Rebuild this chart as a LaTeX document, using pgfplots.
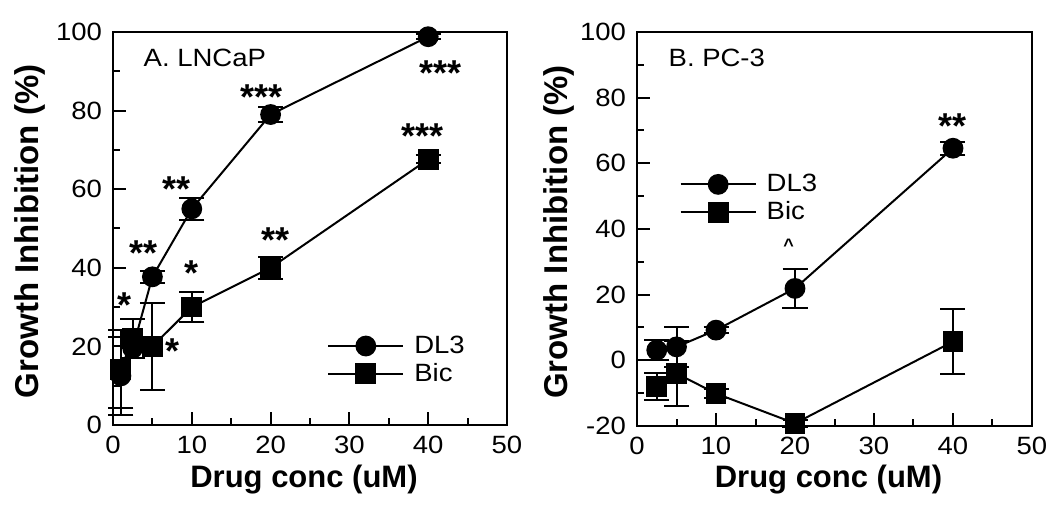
\documentclass[border=0pt]{standalone}
\usepackage{fontspec}
\setmainfont{Liberation Sans}
\newfontfamily\numfont[FakeStretch=1.1]{Liberation Sans}
\usepackage{pgfplots}
\pgfplotsset{compat=1.18}

\pgfplotstableread{
x y e
1 12.5 10
2.5 19.5 2.5
5 37.7 1.5
10 55 2.8
20 79 2
40 98.8 0.6
}\dlA
\pgfplotstableread{
x y e
1 14.2 10
2.5 22 5
5 20 11
10 30 3.8
20 40 2.8
40 67.6 1
}\bicA
\pgfplotstableread{
x y e
2.5 3.1 3
5 4.1 6
10 9.2 1
20 21.9 6
40 64.6 2
}\dlB
\pgfplotstableread{
x y e
2.5 -8 4
5 -4 10
10 -10.1 1.5
20 -19.2 1
40 5.7 10
}\bicB

\pgfplotsset{
  panel/.style={
    scale only axis, width=197pt, height=196.5pt,
    xmin=0, xmax=50, xtick={0,10,...,50}, minor xtick={5,15,...,45},
    axis line style={line width=1pt},
    tick align=inside, tick pos=left,
    major tick length=6.5pt, minor tick length=3.5pt,
    every tick/.style={line width=1pt, black},
    /pgf/number format/assume math mode=true,
    ticklabel style={font=\numfont\fontsize{12.5}{14}\selectfont},
    yticklabel style={xshift=-2pt},
    xticklabel style={yshift=-2pt},
    xlabel={Drug conc (uM)},
    ylabel={Growth Inhibition (\%)},
    xlabel style={at={(axis description cs:0.5,0)}, anchor=base, yshift=-31pt, xshift=-3pt, font=\bfseries\fontsize{15.5}{17}\selectfont},
    ylabel style={at={(axis description cs:0,0.5)}, anchor=center, xshift=-1.5pt, font=\bfseries\fontsize{16.5}{18}\selectfont},
    clip=false,
    legend style={draw=none, fill=none, inner sep=0pt, outer sep=0pt, row sep=3.5pt, column sep=5pt,
      font=\numfont\fontsize{12.5}{14}\selectfont, nodes={inner sep=0pt}, cells={anchor=west}},
    legend image code/.code={\draw[mark repeat=2,mark phase=2] plot coordinates {(0pt,0pt) (18.75pt,0pt) (37.5pt,0pt)};},
  },
  ser/.style={black, line width=1pt, mark size=4.7pt, mark options={solid, fill=black},
    error bars/y dir=both, error bars/y explicit,
    error bars/error bar style={line width=1pt, black},
    error bars/error mark options={rotate=90, mark size=6.25pt, line width=1pt, black}},
}
\tikzset{
  star/.style={font=\bfseries\fontsize{18}{18}\selectfont, anchor=base, yshift=-9.9pt, inner sep=0pt},
  lab/.style={font=\numfont\fontsize{12.5}{14}\selectfont, anchor=base west, inner sep=0pt},
}

\begin{document}
\begin{tikzpicture}
\path[use as bounding box] (0,0) rectangle (525pt,254.5pt);
\begin{axis}[panel, at={(56.5pt,42pt)}, anchor=south west,
  ymin=0, ymax=100, ytick={0,20,...,100}, minor ytick={10,30,...,90},
  ylabel style={yshift=41.5pt},
  legend style={at={(axis cs:27.2,22.7)}, anchor=north west}]
\addplot[ser, mark=*] table[x=x, y=y, y error=e] {\dlA};
\addlegendentry{DL3}
\addplot[ser, mark=square*] table[x=x, y=y, y error=e] {\bicA};
\addlegendentry{Bic}
\node[lab] at (axis cs:3.85,91.2) {A. LNCaP};
\node[star] at (axis cs:18.9,85.2) {***};
\node[star] at (axis cs:41.5,91.3) {***};
\node[star] at (axis cs:39.3,75.5) {***};
\node[star] at (axis cs:8.1,61.9) {**};
\node[star] at (axis cs:3.9,45.6) {**};
\node[star] at (axis cs:1.5,32.4) {*};
\node[star] at (axis cs:9.9,40.5) {*};
\node[star] at (axis cs:20.6,49) {**};
\node[star] at (axis cs:7.5,20.8) {*};
\end{axis}
\begin{axis}[panel, at={(318.5pt,41.5pt)}, anchor=south west, width=197.5pt, height=197pt,
  ymin=-20, ymax=100, ytick={-20,0,...,100}, minor ytick={-10,10,...,90},
  ylabel style={yshift=39pt},
  legend style={at={(axis cs:5.4,56.7)}, anchor=north west}]
\addplot[ser, mark=*] table[x=x, y=y, y error=e] {\dlB};
\addlegendentry{DL3}
\addplot[ser, mark=square*] table[x=x, y=y, y error=e] {\bicB};
\addlegendentry{Bic}
\node[lab] at (axis cs:3.96,89.4) {B. PC-3};
\node[font=\bfseries\fontsize{9}{9}\selectfont, anchor=base, yshift=-4.6pt, inner sep=0pt] at (axis cs:19.2,35.9) {\textasciicircum};
\node[star] at (axis cs:40,73.7) {**};
\end{axis}
\end{tikzpicture}
\end{document}
